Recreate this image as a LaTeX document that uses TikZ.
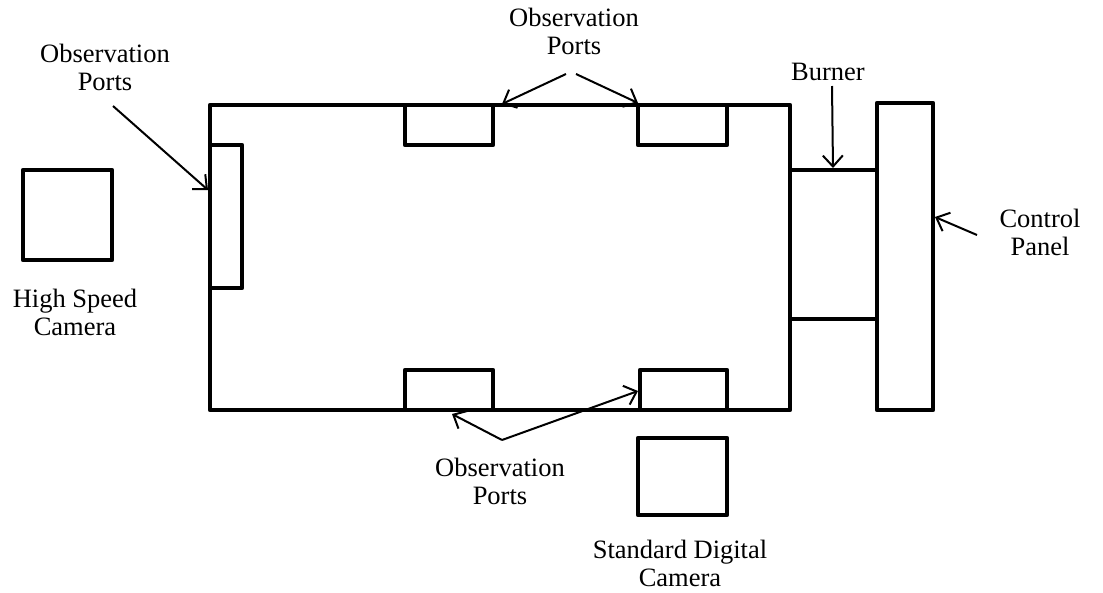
\documentclass[tikz,border=0pt]{standalone}
\usepackage{fontspec}
\setmainfont{Liberation Serif}
\usetikzlibrary{arrows.meta}
\begin{document}
\begin{tikzpicture}[x=1pt,y=-1pt,
  part/.style={draw,line width=4.5pt,line join=round},
  lbl/.style={align=center,inner sep=0pt,font=\fontsize{26.5}{28}\selectfont},
  pointer/.style={line width=2pt,-{Straight Barb[length=11pt,width=20pt,line width=2pt]}}]
\useasboundingbox (0,0) rectangle (1103,592);
% chamber
\draw[part] (210,105) rectangle (790,410);
% ports
\draw[part] (210,145) rectangle (242,288);
\draw[part] (405,105) rectangle (493,145);
\draw[part] (638,105) rectangle (727,145);
\draw[part] (405,370) rectangle (493,410);
\draw[part] (640,370) rectangle (727,410);
% burner
\draw[part] (790,170) -- (877,170);
\draw[part] (790,319) -- (877,319);
% control panel
\draw[part] (877,103) rectangle (933,410);
% cameras
\draw[part] (23,170) rectangle (112,260);
\draw[part] (638,438) rectangle (727,515);
% labels
\node[lbl] (obsL) at (105,67) {Observation\\Ports};
\node[lbl] (obsT) at (574,31) {Observation\\Ports};
\node[lbl] (obsB) at (500,481) {Observation\\Ports};
\node[lbl] (hsc) at (75,312) {High Speed\\Camera};
\node[lbl] (cp) at (1040,232) {Control\\Panel};
\node[lbl] (burner) at (828,72) {Burner};
\node[lbl] (sdc) at (680,563) {Standard Digital\\Camera};
% pointer coordinates
\coordinate (l0) at (113,106);
\coordinate (l1) at (208,190);
\coordinate (t0) at (566,74);
\coordinate (t1) at (502,104);
\coordinate (t2) at (576,74);
\coordinate (t3) at (638,103);
\coordinate (b0) at (502,440);
\coordinate (b1) at (452,414);
\coordinate (b2) at (638,391);
\coordinate (u0) at (832,86);
\coordinate (u1) at (833,168);
\coordinate (c0) at (977,235);
\coordinate (c1) at (935,217);
\draw[pointer] (l0) -- (l1);
\draw[pointer] (t0) -- (t1);
\draw[pointer] (t2) -- (t3);
\draw[pointer] (b0) -- (b1);
\draw[pointer] (b0) -- (b2);
\draw[pointer] (u0) -- (u1);
\draw[pointer] (c0) -- (c1);
\end{tikzpicture}
\end{document}
